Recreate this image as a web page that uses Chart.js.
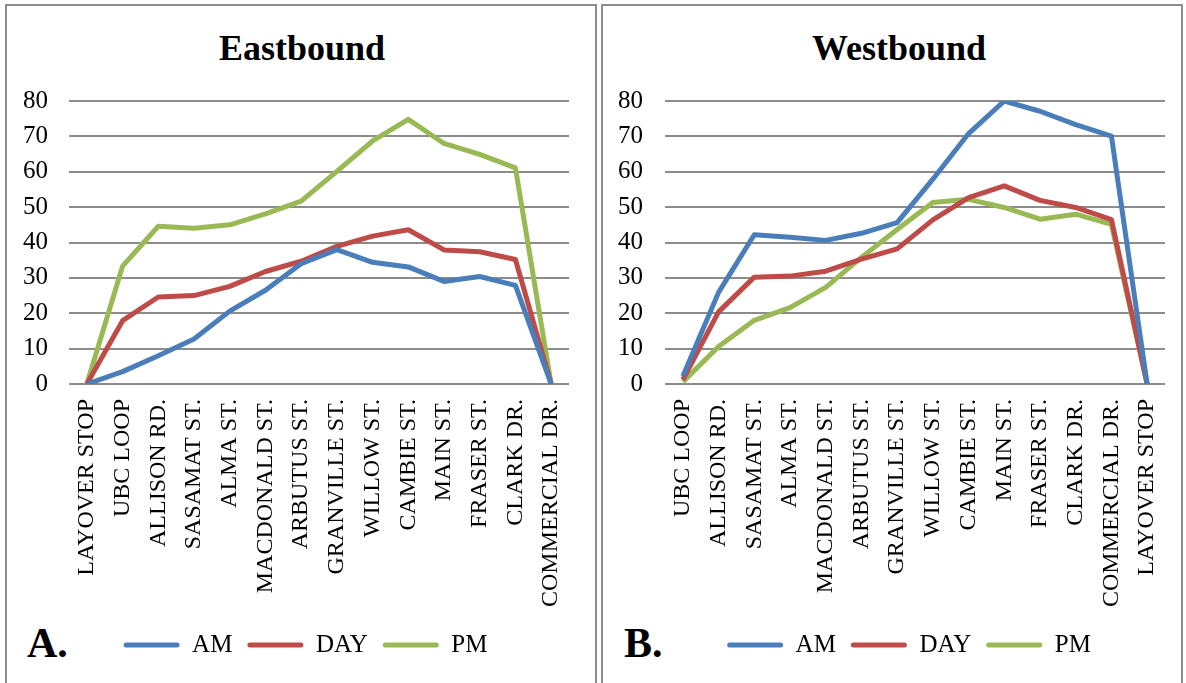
<!DOCTYPE html>
<html>
<head>
<meta charset="utf-8">
<script src="https://cdn.jsdelivr.net/npm/chart.js@4/dist/chart.umd.min.js"></script>
<style>
  html, body { margin: 0; padding: 0; background: #fff; }
  body { width: 1186px; height: 683px; position: relative; overflow: hidden; font-family: "Liberation Serif", "Times New Roman", serif; }
  .panel { position: absolute; top: 4px; height: 700px; border: 2px solid #8c8c8c; box-sizing: border-box; }
  .title { position: absolute; top: 30px; font-size: 36px; line-height: 36px; font-weight: bold; text-align: center; color: #000; }
  .tag { position: absolute; top: 622px; font-size: 42px; line-height: 42px; font-weight: bold; color: #000; }
  canvas { position: absolute; }
</style>
</head>
<body>
<div class="panel" style="left:5px; width:592px;"></div>
<div class="panel" style="left:601px; width:582px;"></div>
<div class="title" style="left:0; width:604px;">Eastbound</div>
<div class="title" style="left:600px; width:598px;">Westbound</div>
<div class="tag" style="left:27px;">A.</div>
<div class="tag" style="left:624px;">B.</div>
<canvas id="east" width="595" height="676" style="left:8px; top:7px;"></canvas>
<canvas id="west" width="606" height="676" style="left:606px; top:7px;"></canvas>
<script>
// Stop sequences for each direction
const eastStops = ['LAYOVER STOP', 'UBC LOOP', 'ALLISON RD.', 'SASAMAT ST.', 'ALMA ST.', 'MACDONALD ST.', 'ARBUTUS ST.', 'GRANVILLE ST.', 'WILLOW ST.', 'CAMBIE ST.', 'MAIN ST.', 'FRASER ST.', 'CLARK DR.', 'COMMERCIAL DR.'];
const westStops = ['UBC LOOP', 'ALLISON RD.', 'SASAMAT ST.', 'ALMA ST.', 'MACDONALD ST.', 'ARBUTUS ST.', 'GRANVILLE ST.', 'WILLOW ST.', 'CAMBIE ST.', 'MAIN ST.', 'FRASER ST.', 'CLARK DR.', 'COMMERCIAL DR.', 'LAYOVER STOP'];

// Eastbound load by period
const eastAM  = [0, 3.5, 8.0, 12.7, 20.6, 26.5, 34.0, 38.0, 34.4, 33.1, 29.0, 30.4, 27.9, 0];
const eastDAY = [0, 17.9, 24.6, 25.0, 27.6, 31.8, 34.7, 38.9, 41.8, 43.6, 37.9, 37.4, 35.2, 0];
const eastPM  = [0, 33.3, 44.6, 44.0, 45.0, 48.1, 51.7, 60.1, 68.7, 74.8, 68.0, 64.9, 61.1, 0];

// Westbound load by period
const westAM  = [2.2, 25.9, 42.2, 41.5, 40.6, 42.6, 45.6, 57.9, 70.8, 80.0, 77.1, 73.3, 70.1, 0];
const westDAY = [1.2, 20.4, 30.2, 30.5, 31.9, 35.3, 38.2, 46.4, 52.7, 56.0, 51.9, 49.9, 46.5, 0];
const westPM  = [0.6, 10.6, 18.0, 21.6, 27.3, 35.8, 43.7, 51.3, 52.2, 49.9, 46.6, 48.0, 45.1, 0];

const yTicksMin = 0;
const yTicksMax = 80;
const yTicksStep = 10;

const seriesNames = ['AM', 'DAY', 'PM'];
const seriesColors = ['#4a7ebb', '#be4b48', '#98b954'];

const FONT = 'Liberation Serif';

function buildChart(id, stops, series, geo) {
  const datasets = series.map((values, i) => ({
    label: seriesNames[i],
    data: values,
    borderColor: seriesColors[i],
    backgroundColor: seriesColors[i],
    borderWidth: 5,
    borderJoinStyle: 'round',
    pointRadius: 0,
    pointHoverRadius: 0,
    tension: 0,
    fill: false
  }));

  return new Chart(document.getElementById(id), {
    type: 'line',
    data: { labels: stops, datasets },
    options: {
      responsive: false,
      animation: false,
      events: [],
      layout: { padding: { left: 0, right: 0, top: 94, bottom: 15.5 } },
      scales: {
        x: {
          offset: true,
          grid: { display: false },
          border: { display: false },
          ticks: {
            autoSkip: false,
            minRotation: 90,
            maxRotation: 90,
            padding: 7,
            color: '#000',
            font: { family: FONT, size: 24 }
          },
          afterFit: (scale) => { scale.height = 233.5; }
        },
        y: {
          position: 'left',
          min: yTicksMin,
          max: yTicksMax,
          grid: { color: '#8c8c8c', lineWidth: 2, drawTicks: false },
          border: { display: false },
          ticks: {
            stepSize: yTicksStep,
            padding: geo.tickPad,
            color: '#000',
            font: { family: FONT, size: 25 }
          },
          afterFit: (scale) => { scale.width = geo.axisWidth; }
        },
        // empty right-hand margin scale so the legend sits centred under the panel
        gutter: {
          type: 'linear',
          position: 'right',
          display: true,
          grid: { display: false },
          border: { display: false },
          ticks: { display: false },
          afterFit: (scale) => { scale.width = geo.gutterWidth; }
        }
      },
      plugins: {
        tooltip: { enabled: false },
        title: { display: false },
        legend: {
          position: 'bottom',
          labels: {
            color: '#000',
            font: { family: FONT, size: 25 },
            boxWidth: 56,
            boxHeight: 5,
            padding: 15,
            generateLabels: (chart) => {
              const items = Chart.defaults.plugins.legend.labels.generateLabels(chart);
              return items.map((it) => Object.assign(it, {
                fillStyle: it.strokeStyle,
                lineWidth: 0,
                borderRadius: 2.5
              }));
            }
          }
        }
      }
    }
  });
}

buildChart('east', eastStops, [eastAM, eastDAY, eastPM], { axisWidth: 61, tickPad: 21, gutterWidth: 34 });
buildChart('west', westStops, [westAM, westDAY, westPM], { axisWidth: 59, tickPad: 22, gutterWidth: 47 });
</script>
</body>
</html>
